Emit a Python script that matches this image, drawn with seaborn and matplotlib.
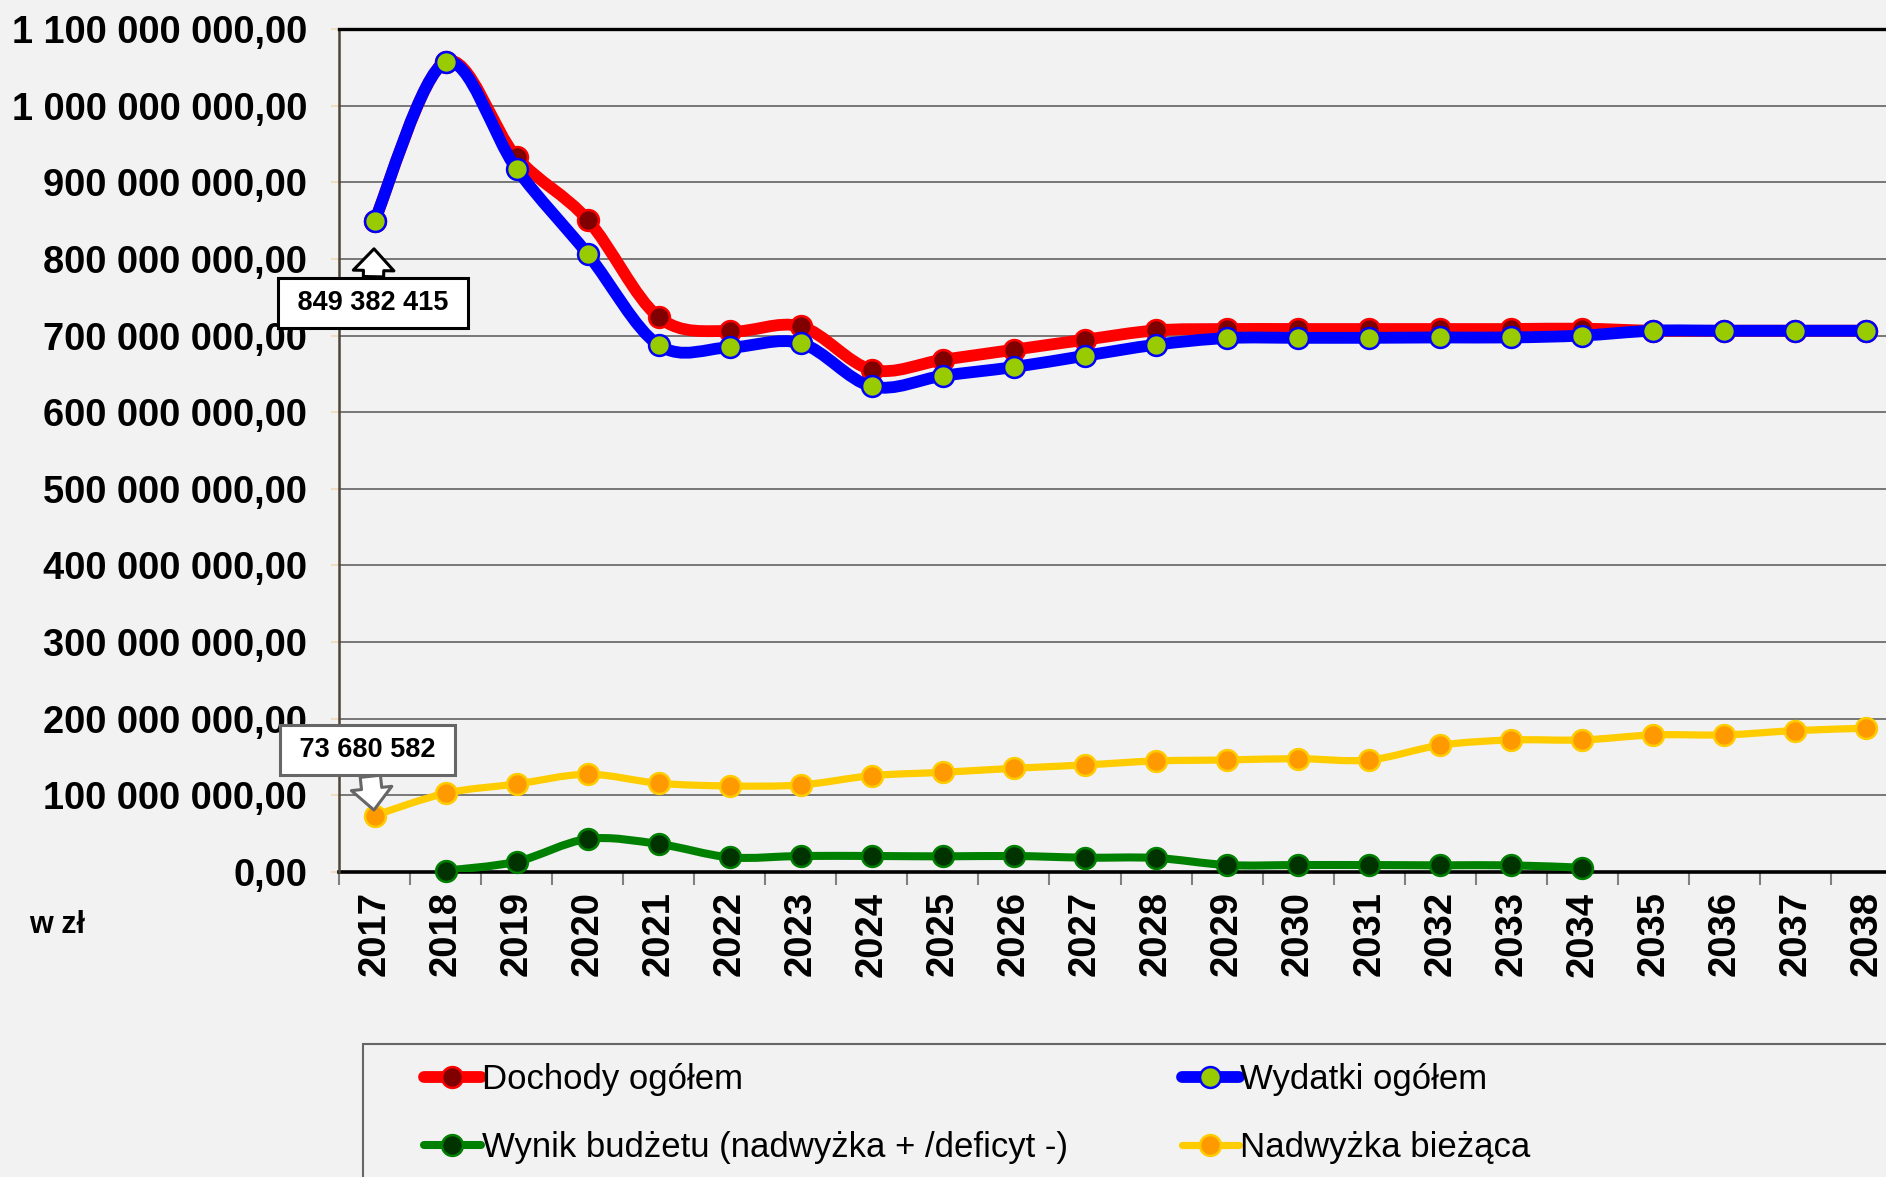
import numpy as np
import pandas as pd
import matplotlib
matplotlib.use('Agg')
import matplotlib.pyplot as plt
import seaborn as sns
from matplotlib.path import Path
from matplotlib.patches import PathPatch, Rectangle
from matplotlib.lines import Line2D
from matplotlib.ticker import FuncFormatter, FixedLocator

# dane (mln zł)
years = list(range(2017, 2039))
dochody = [849.4, 1057.5, 932.5, 851.0, 724.0, 705.4, 711.9, 655.4, 668.4, 681.5, 694.5, 706.7,
           708.5, 708.5, 708.5, 708.5, 708.5, 709.0, 706.3, 706.3, 706.3, 706.3]
wydatki = [849.382415, 1056.5, 917.3, 806.4, 687.5, 684.5, 690.0, 633.6, 647.5, 658.9, 673.6, 688.0,
           696.7, 697.0, 697.0, 697.5, 697.5, 700.0, 706.3, 706.3, 706.3, 706.3]
wynik = [np.nan, 1.7, 13.5, 43.1, 36.6, 19.2, 20.9, 20.9, 20.4, 20.9, 18.7, 18.3,
         9.1, 9.1, 9.1, 8.7, 8.7, 5.6, np.nan, np.nan, np.nan, np.nan]
nadwyzka = [73.680582, 102.7, 114.9, 127.5, 115.8, 112.3, 113.6, 125.7, 130.1, 135.3, 139.7, 144.9,
            146.2, 147.9, 146.2, 165.4, 172.3, 172.3, 178.9, 178.9, 184.5, 187.6]
y_ticks = [i * 100 for i in range(12)]

labels = ['Dochody ogółem', 'Wydatki ogółem', 'Wynik budżetu (nadwyżka + /deficyt -)', 'Nadwyżka bieżąca']

sns.set_theme(style='white')
plt.rcParams['font.family'] = ['Liberation Sans', 'DejaVu Sans']
plt.rcParams['text.color'] = 'black'
plt.rcParams['xtick.color'] = 'black'
plt.rcParams['ytick.color'] = 'black'
plt.rcParams['xtick.labelcolor'] = 'black'
plt.rcParams['ytick.labelcolor'] = 'black'

df = pd.DataFrame({'rok': years, 'dochody': dochody, 'wydatki': wydatki,
                   'wynik': wynik, 'nadwyzka': nadwyzka})
df['x'] = np.arange(len(df))
for c in ['dochody', 'wydatki', 'wynik', 'nadwyzka']:
    df[c] = df[c] * 1e6

bg = '#f2f2f2'
fig = plt.figure(figsize=(18.86, 11.77), dpi=100, facecolor=bg)
W, H = 1886, 1177
ax = fig.add_axes([339 / W, 1 - 872 / H, (1902 - 339) / W, (872 - 29) / H])
ax.set_facecolor(bg)


def smooth_path(xs, ys):
    # krzywa wygladzona jak w Excelu (Bezier przez punkty)
    verts = [(xs[0], ys[0])]
    codes = [Path.MOVETO]
    n = len(xs)
    for i in range(n - 1):
        x0, y0 = (xs[i - 1], ys[i - 1]) if i > 0 else (xs[i], ys[i])
        x3, y3 = (xs[i + 2], ys[i + 2]) if i + 2 < n else (xs[i + 1], ys[i + 1])
        c1 = (xs[i] + (xs[i + 1] - x0) / 6, ys[i] + (ys[i + 1] - y0) / 6)
        c2 = (xs[i + 1] - (x3 - xs[i]) / 6, ys[i + 1] - (y3 - ys[i]) / 6)
        verts += [c1, c2, (xs[i + 1], ys[i + 1])]
        codes += [Path.CURVE4] * 3
    return Path(verts, codes)


ms = 15
series = [
    ('nadwyzka', '#ffcc00', 5.2, '#ff9900', '#ffcc00', 3),
    ('wynik', '#008000', 5.8, '#003300', '#008000', 3),
    ('dochody', '#ff0000', 8.5, '#800000', '#ff0000', 4),
    ('wydatki', '#0000ff', 8.5, '#99cc00', '#0000ff', 5),
]
for col, lc, lw, mfc, mec, z in series:
    d = df.dropna(subset=[col])
    p = smooth_path(d['x'].values, d[col].values)
    ax.add_patch(PathPatch(p, fill=False, edgecolor=lc, lw=lw, capstyle='round',
                           joinstyle='round', zorder=z))
    sns.scatterplot(data=d, x='x', y=col, ax=ax, s=ms ** 2, color=mfc, edgecolor=mec,
                    linewidth=1.8, zorder=z + 0.5, clip_on=False, legend=False)

ax.set_xlim(-0.5, 21.5)
ax.set_ylim(0, 1.1e9)
ax.set_xlabel('')
ax.set_ylabel('')

ax.yaxis.set_major_locator(FixedLocator([v * 1e6 for v in y_ticks]))
ax.yaxis.set_major_formatter(FuncFormatter(
    lambda v, p: f'{v:,.2f}'.replace(',', ' ').replace('.', ',')))
ax.tick_params(axis='y', labelsize=27.4, length=6, color='#f0dcc0', width=1.5, pad=17, left=True)
for t in ax.get_yticklabels():
    t.set_fontweight('bold')

ax.set_xticks(df['x'])
ax.set_xticklabels([str(y) for y in years], rotation=90, fontsize=27.5, fontweight='bold', va='top')
ax.set_xticks(np.arange(-0.5, 22, 1), minor=True)
ax.tick_params(axis='x', which='major', length=0, pad=14, bottom=True)
ax.tick_params(axis='x', which='minor', length=9, color='#808080', width=1.5, bottom=True)

ax.grid(axis='y', color='#6e6e6e', lw=1.3, zorder=0)
ax.grid(axis='x', visible=False)
ax.set_axisbelow(True)
ax.spines['top'].set_color('black')
ax.spines['top'].set_linewidth(2.4)
ax.spines['bottom'].set_color('black')
ax.spines['bottom'].set_linewidth(2.6)
ax.spines['bottom'].set_zorder(2)
ax.spines['left'].set_color('#4d4538')
ax.spines['left'].set_linewidth(1.8)
ax.spines['right'].set_visible(False)

fig.text(29 / W, 1 - 933 / H, 'w zł', fontsize=22, fontweight='bold', va='baseline', ha='left')

# etykiety danych
ax.annotate(' 849 382 415 ', xy=(0, df['wydatki'][0]), xycoords='data',
            xytext=(373 / W, 1 - 303 / H), textcoords='figure fraction',
            ha='center', va='center', fontsize=19.5, fontweight='bold', zorder=10,
            bbox=dict(boxstyle='square,pad=0.45', fc='white', ec='black', lw=2.2),
            arrowprops=dict(arrowstyle='simple,head_length=0.8,head_width=1.5,tail_width=0.75',
                            fc='white', ec='black', lw=2.2, shrinkA=0, shrinkB=20))
ax.annotate(' 73 680 582 ', xy=(0, df['nadwyzka'][0]), xycoords='data',
            xytext=(367.5 / W, 1 - 750 / H), textcoords='figure fraction',
            ha='center', va='center', fontsize=19.5, fontweight='bold', zorder=10,
            bbox=dict(boxstyle='square,pad=0.45', fc='white', ec='#666666', lw=2.2),
            arrowprops=dict(arrowstyle='simple,head_length=0.8,head_width=1.5,tail_width=0.75',
                            fc='white', ec='#666666', lw=2.2, shrinkA=0, shrinkB=4))

# legenda
fig.patches.append(Rectangle((362.7 / W, -0.05), 1.0, 0.05 + 1 - 1044 / H, transform=fig.transFigure,
                             fill=False, ec='#666666', lw=1.5, zorder=1))


def handle(lc, lw, mfc, mec):
    return Line2D([], [], color=lc, lw=lw, marker='o', markersize=ms, markerfacecolor=mfc,
                  markeredgecolor=mec, markeredgewidth=1.8, solid_capstyle='round')


h = {col: handle(lc, lw, mfc, mec) for col, lc, lw, mfc, mec, z in series}
yc = 1 - 1113.5 / H
leg_kw = dict(loc='center left', frameon=False, fontsize=25, borderpad=0,
              handlelength=1.62, handletextpad=0.05, labelspacing=0.99, labelcolor='black')
leg1 = fig.legend([h['dochody'], h['wynik']], [labels[0], labels[2]],
                  bbox_to_anchor=(407 / W, yc), **leg_kw)
leg2 = fig.legend([h['wydatki'], h['nadwyzka']], [labels[1], labels[3]],
                  bbox_to_anchor=(1165 / W, yc), **leg_kw)

fig.savefig('out.png', dpi=100, facecolor=bg)
